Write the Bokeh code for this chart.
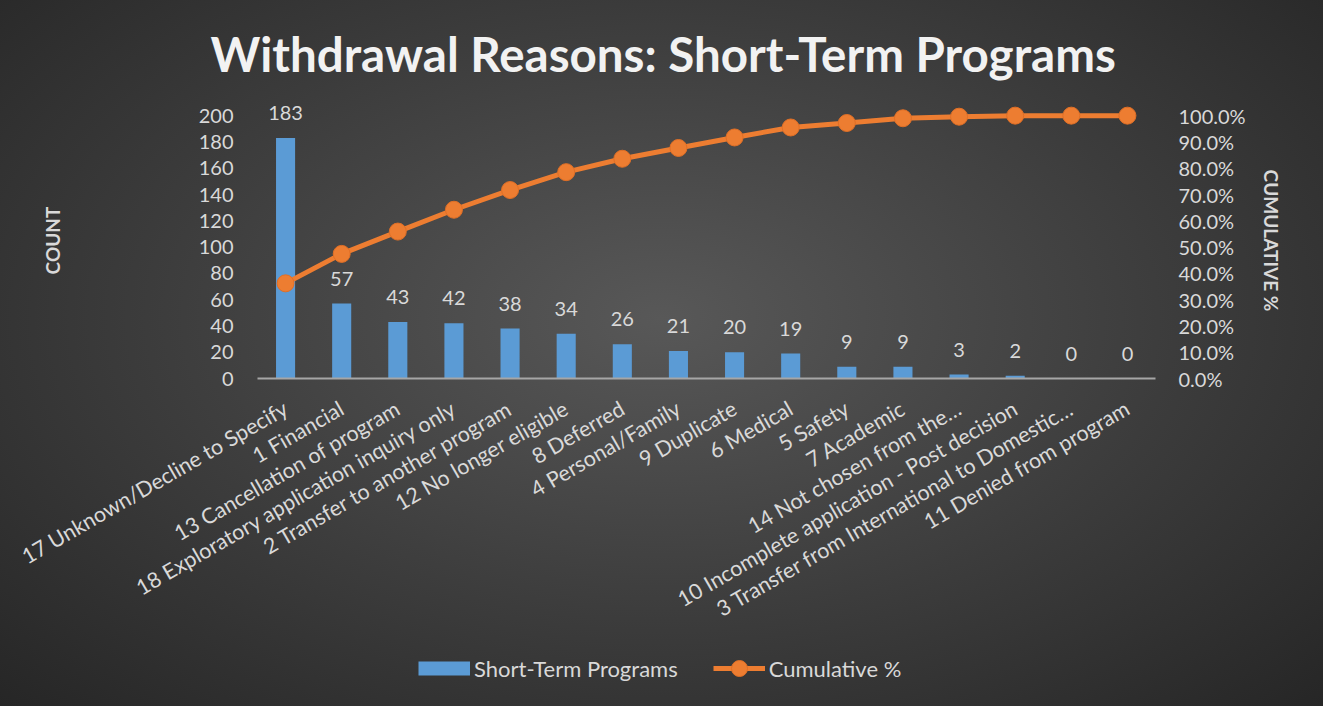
import math
from bokeh.plotting import figure
from bokeh.layouts import column
from bokeh.models import (Range1d, LinearAxis, FixedTicker, NumeralTickFormatter,
                          Legend, LegendItem)
from bokeh.core.properties import value
from bokeh.embed import file_html
from bokeh.resources import INLINE

categories = [
    "17 Unknown/Decline to Specify",
    "1 Financial",
    "13 Cancellation of program",
    "18 Exploratory application inquiry only",
    "2 Transfer to another program",
    "12 No longer eligible",
    "8 Deferred",
    "4 Personal/Family",
    "9 Duplicate",
    "6 Medical",
    "5 Safety",
    "7 Academic",
    "14 Not chosen from the\u2026",
    "10 Incomplete application - Post decision",
    "3 Transfer from International to Domestic\u2026",
    "11 Denied from program",
]
counts = [183, 57, 43, 42, 38, 34, 26, 21, 20, 19, 9, 9, 3, 2, 0, 0]
cumulative_pct = [0.362, 0.474, 0.559, 0.642, 0.717, 0.785, 0.836, 0.877,
                  0.917, 0.955, 0.972, 0.990, 0.996, 1.0, 1.0, 1.0]
count_labels = [str(c) for c in counts]
count_ticks = [0, 20, 40, 60, 80, 100, 120, 140, 160, 180, 200]
pct_ticks = [0.0, 0.1, 0.2, 0.3, 0.4, 0.5, 0.6, 0.7, 0.8, 0.9, 1.0]

FONT = "Lato"
TXT = "#d9d9d9"
BLUE = "#5b9bd5"
ORANGE = "#ed7d31"
NAN = float("nan")

p = figure(x_range=categories, y_range=Range1d(0, 210),
           frame_width=898, frame_height=276,
           output_backend="svg", toolbar_location=None,
           min_border_left=257, min_border_right=168,
           min_border_top=102, min_border_bottom=268,
           title="Withdrawal Reasons: Short-Term Programs")
p.background_fill_alpha = 0
p.border_fill_alpha = 0
p.outline_line_color = None
p.grid.visible = False

p.title.align = "left"
p.title.offset = -47
p.title.text_font = FONT
p.title.text_font_size = "47.5px"
p.title.text_font_style = "bold"
p.title.text_color = "#f2f2f2"
p.title.standoff = 41

p.extra_y_ranges = {"pct": Range1d(0, 1.05)}
right = LinearAxis(y_range_name="pct", ticker=FixedTicker(ticks=pct_ticks),
                   formatter=NumeralTickFormatter(format="0.0%"),
                   axis_label="CUMULATIVE %")
p.add_layout(right, "right")

p.yaxis[0].ticker = FixedTicker(ticks=count_ticks)
p.yaxis[0].axis_label = "COUNT"

for ax in p.yaxis:
    ax.axis_line_color = None
    ax.major_tick_line_color = None
    ax.minor_tick_line_color = None
    ax.major_label_text_color = TXT
    ax.major_label_text_font = FONT
    ax.major_label_text_font_size = "20px"
    ax.axis_label_text_color = TXT
    ax.axis_label_text_font = FONT
    ax.axis_label_text_font_size = "19px"
    ax.axis_label_text_font_style = "bold"
p.yaxis[0].major_label_standoff = 18
p.yaxis[0].axis_label_standoff = 132
right.major_label_standoff = 17
right.axis_label_standoff = 11

xa = p.xaxis[0]
xa.axis_line_color = "#a6a6a6"
xa.axis_line_width = 2
xa.major_tick_line_color = None
xa.minor_tick_line_color = None
xa.major_label_orientation = math.pi / 6
xa.major_label_text_color = TXT
xa.major_label_text_font = FONT
xa.major_label_text_font_size = "21.5px"
xa.major_label_standoff = 22

bars = p.vbar(x=categories, top=counts, width=0.34, fill_color=BLUE,
              line_color=None)
p.text(x=categories, y=counts, text=count_labels, y_offset=-25,
       text_align="center", text_baseline="middle", text_color=TXT,
       text_font_size="20px", text_font=value(FONT))

line = p.line(x=categories, y=cumulative_pct, y_range_name="pct",
              line_color=ORANGE, line_width=5)
dots = p.scatter(x=categories, y=cumulative_pct, y_range_name="pct", size=17,
                 fill_color=ORANGE, line_color="#e06f26", line_width=1)

# ---- legend strip below the chart (legend proxies hold no visible data) ----
lg = figure(width=1323, height=60, x_range=(0, 1), y_range=(0, 1),
            x_axis_type=None, y_axis_type=None, min_border=0,
            output_backend="svg", toolbar_location=None)
lg.background_fill_alpha = 0
lg.border_fill_alpha = 0
lg.outline_line_color = None
lg.grid.visible = False
sw = lg.line(x=[NAN], y=[NAN], line_color=BLUE, line_width=14, line_cap="butt")
ll = lg.line(x=[NAN], y=[NAN], line_color=ORANGE, line_width=5)
ld = lg.scatter(x=[NAN], y=[NAN], size=17, fill_color=ORANGE,
                line_color="#e06f26", line_width=1)

legend = Legend(items=[LegendItem(label="Short-Term Programs", renderers=[sw]),
                       LegendItem(label="Cumulative %", renderers=[ll, ld])],
                orientation="horizontal", location=(161, 18),
                background_fill_alpha=0, border_line_color=None,
                label_text_color=TXT, label_text_font=FONT,
                label_text_font_size="22px", glyph_width=52, glyph_height=40,
                spacing=35, label_standoff=4, padding=0, margin=0)
lg.add_layout(legend, "center")

page = column(p, lg, spacing=0)
page.styles = {"background": "radial-gradient(ellipse farthest-corner at 50% 45%, #585858 0%, #3c3c3c 55%, #262626 100%)"}

open("out.html", "w").write(file_html(page, INLINE))
